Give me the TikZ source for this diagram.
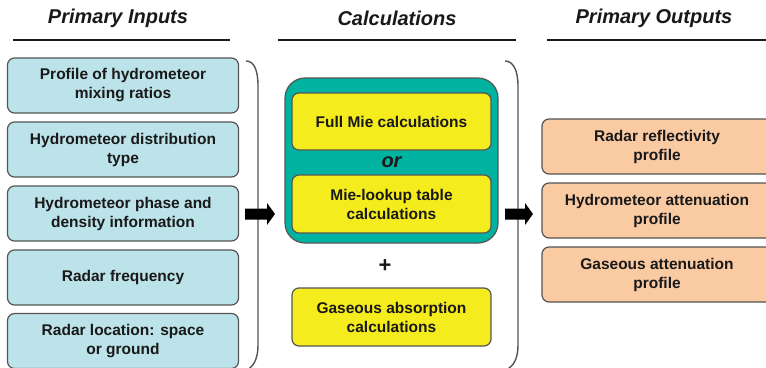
\documentclass[tikz,border=0pt]{standalone}
\usepackage{fontspec}
\setmainfont{Liberation Sans}
\definecolor{inblue}{RGB}{188,227,233}
\definecolor{tealc}{RGB}{0,178,160}
\definecolor{yel}{RGB}{245,236,30}
\definecolor{peach}{RGB}{250,202,162}
\definecolor{bord}{RGB}{85,85,85}
\definecolor{txt}{RGB}{25,25,25}
\begin{document}
\begin{tikzpicture}[x=1pt,y=-1pt,
  box/.style={draw=bord, line width=1.2pt, rounded corners=7pt, minimum height=55pt,
    align=center, font=\bfseries\fontsize{15.5}{19}\selectfont, text=txt, inner sep=0pt},
  inbox/.style={box, fill=inblue, minimum width=231pt},
  ybox/.style={box, fill=yel, minimum width=199pt},
  outbox/.style={box, fill=peach, minimum width=240pt},
  hdr/.style={font=\bfseries\itshape\fontsize{20}{22}\selectfont, text=txt, inner sep=0pt},
  rule/.style={line width=1.3pt, txt},
  brk/.style={line width=1.4pt, bord},
  blk/.style={fill=black}]
\useasboundingbox (0,0) rectangle (766,367);
\clip (0,0) rectangle (766,367);
\fill[white] (0,0) rectangle (766,367);
% headers
\node[hdr] (h1) at (118,18) {Primary Inputs};
\node[hdr] (h2) at (397,18) {Calculations};
\node[hdr] (h3) at (654,18) {Primary Outputs};
\draw[rule] (13,40) -- (230,40);
\draw[rule] (278,40) -- (516,40);
\draw[rule] (547,40) -- (766,40);
% inputs
\node[inbox] (i1) at (123,85.5) {Profile of hydrometeor\\mixing ratios};
\node[inbox] (i2) at (123,149.5) {Hydrometeor distribution\\type};
\node[inbox] (i3) at (123,213.5) {Hydrometeor phase and\\density information};
\node[inbox] (i4) at (123,277.5) {Radar frequency};
\node[inbox] (i5) at (123,341) {Radar location: space\\or ground};
% brackets
\draw[brk] (246,61) .. controls (254,61) and (258,70) .. (258,86) -- (258,345) .. controls (258,358) and (254,365) .. (249,369);
\draw[brk] (505,61) .. controls (513,61) and (518,70) .. (518,86) -- (518,345) .. controls (518,358) and (514,365) .. (508,369);
% arrows
\fill[blk] (245,208.5) -- (267,208.5) -- (267,203) -- (275,214) -- (267,225) -- (267,219.5) -- (245,219.5) -- cycle;
\fill[blk] (505,208.5) -- (525,208.5) -- (525,203) -- (533,214) -- (525,225) -- (525,219.5) -- (505,219.5) -- cycle;
% calculations
\node[draw=bord, line width=1.2pt, fill=tealc, rounded corners=20pt, minimum width=213pt, minimum height=165pt, inner sep=0pt] (tb) at (391.5,160.5) {};
\node[ybox, minimum height=57pt] (c1) at (391.5,121.5) {Full Mie calculations};
\node[font=\bfseries\itshape\fontsize{20}{22}\selectfont, text=txt, inner sep=0pt] (or) at (391.5,162) {or};
\node[ybox, minimum height=58pt] (c2) at (391.5,204) {Mie-lookup table\\calculations};
\node[font=\bfseries\fontsize{22}{24}\selectfont, text=txt, inner sep=0pt] (plus) at (385,266) {+};
\node[ybox, minimum height=58pt] (c3) at (391.5,317) {Gaseous absorption\\calculations};
% outputs
\node[outbox] (o1) at (662,146.5) {\hspace*{-10pt}Radar reflectivity\\\hspace*{-10pt}profile};
\node[outbox] (o2) at (662,210.5) {\hspace*{-10pt}Hydrometeor attenuation\\\hspace*{-10pt}profile};
\node[outbox] (o3) at (662,274.5) {\hspace*{-10pt}Gaseous attenuation\\\hspace*{-10pt}profile};
\end{tikzpicture}
\end{document}
